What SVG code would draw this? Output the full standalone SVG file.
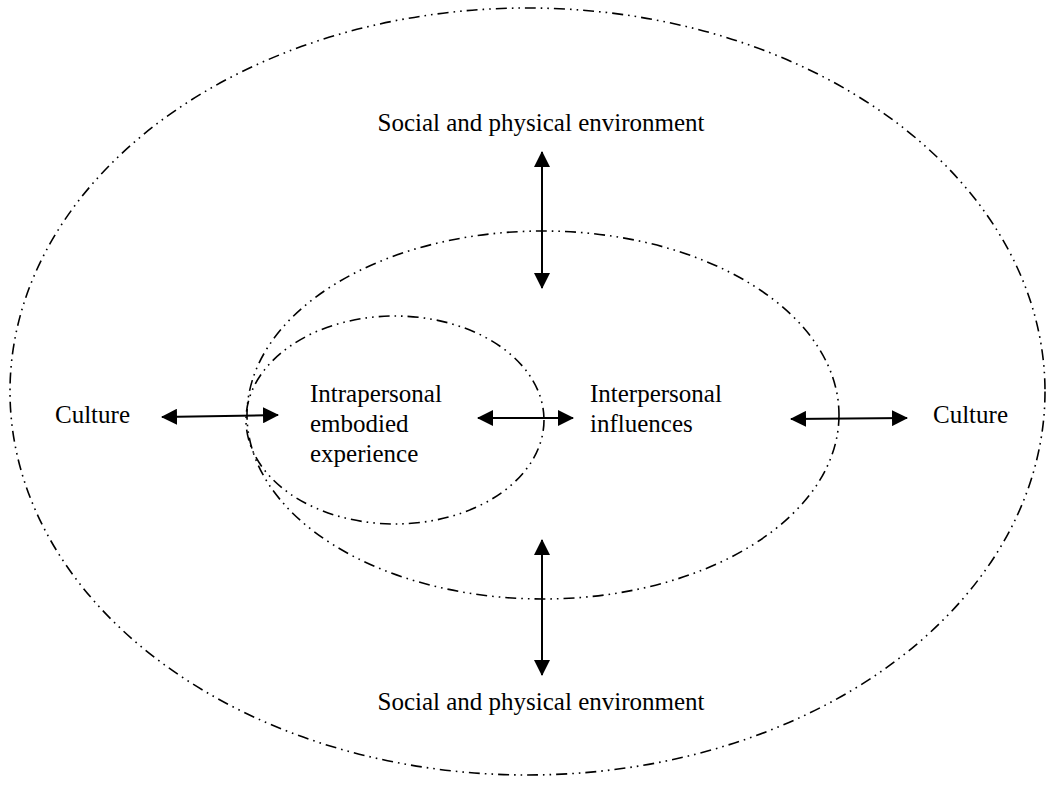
<svg xmlns="http://www.w3.org/2000/svg" width="1050" height="806" viewBox="0 0 1050 806">
  <defs>
    <style>
      .ring { fill: none; stroke: #000; stroke-width: 1.6; stroke-dasharray: 11 5 1.6 5 1.6 5; }
      .link { fill: none; stroke: #000; stroke-width: 2; marker-start: url(#head); marker-end: url(#head); }
      .label { font-family: "Liberation Serif", "Times New Roman", serif; font-size: 25px; fill: #000; }
    </style>
    <marker id="head" viewBox="0 0 16 16" refX="15" refY="8" markerWidth="16" markerHeight="16" markerUnits="userSpaceOnUse" orient="auto-start-reverse">
      <path d="M0,0 L16,8 L0,16 z" fill="#000"/>
    </marker>
  </defs>
  <rect width="1050" height="806" fill="#fff"/>

  <!-- nested spheres of influence -->
  <g id="culture-ring"><ellipse class="ring" cx="527.5" cy="391.5" rx="517.5" ry="383.5"/></g>
  <g id="interpersonal-ring"><ellipse class="ring" cx="543" cy="415" rx="296" ry="184"/></g>
  <g id="intrapersonal-ring"><ellipse class="ring" cx="395" cy="420" rx="149" ry="104"/></g>

  <!-- labels -->
  <g id="environment-top"><text class="label" x="541" y="131" text-anchor="middle">Social and physical environment</text></g>
  <g id="environment-bottom"><text class="label" x="541" y="710" text-anchor="middle">Social and physical environment</text></g>
  <g id="culture-left"><text class="label" x="55" y="423">Culture</text></g>
  <g id="culture-right"><text class="label" x="933" y="423">Culture</text></g>
  <g id="intrapersonal">
    <text class="label" x="310" y="402">Intrapersonal</text>
    <text class="label" x="310" y="432">embodied</text>
    <text class="label" x="310" y="462">experience</text>
  </g>
  <g id="interpersonal">
    <text class="label" x="590" y="402">Interpersonal</text>
    <text class="label" x="590" y="432">influences</text>
  </g>

  <!-- two-way connectors -->
  <g id="connectors">
    <line class="link" x1="542" y1="152" x2="542" y2="288"/>
    <line class="link" x1="542" y1="540" x2="542" y2="675"/>
    <line class="link" x1="162" y1="417" x2="278" y2="415"/>
    <line class="link" x1="478" y1="418" x2="573" y2="418"/>
    <line class="link" x1="791" y1="419" x2="907" y2="418"/>
  </g>
</svg>
